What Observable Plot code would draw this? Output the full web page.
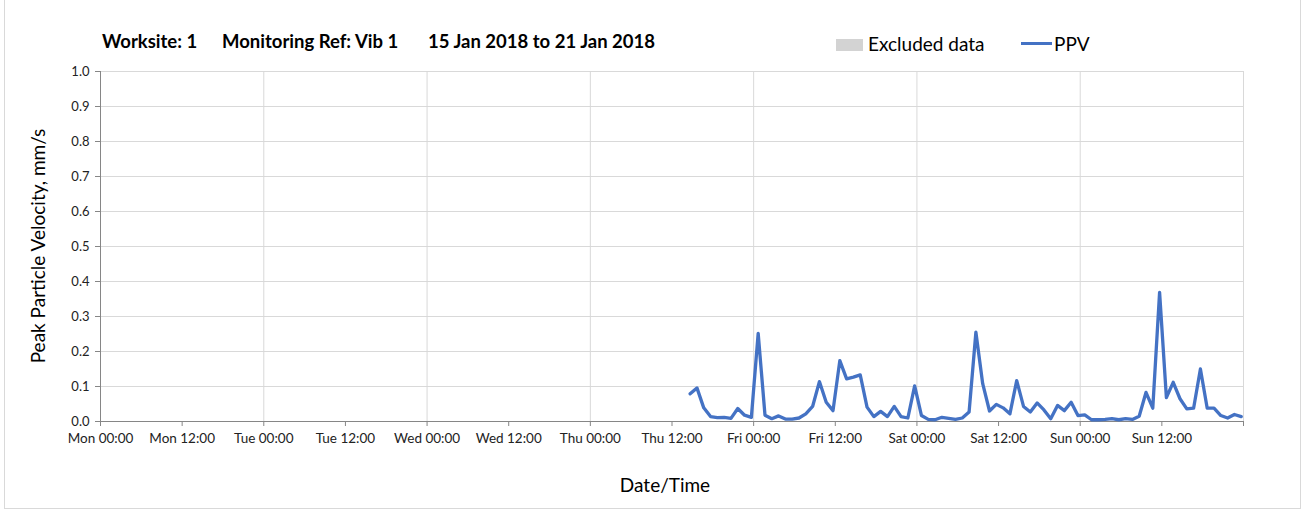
<!DOCTYPE html>
<html>
<head>
<meta charset="utf-8">
<script src="https://cdn.jsdelivr.net/npm/d3@7"></script>
<script src="https://cdn.jsdelivr.net/npm/@observablehq/plot@0.6"></script>
<style>
  html, body { margin: 0; padding: 0; background: #fff; }
  #chart { position: relative; width: 1309px; height: 518px; font-family: Lato, "Open Sans", sans-serif; color: #000; overflow: hidden; }
  #frame { position: absolute; left: 4px; top: -1px; width: 1297px; height: 510px; border: 1px solid #d9d9d9; box-sizing: border-box; }
  .title { position: absolute; top: 30px; font-weight: bold; font-size: 18.5px; white-space: pre; line-height: 22px; }
  .legtext { position: absolute; top: 33px; font-size: 19px; line-height: 22px; color: #000; }
  #swatch { position: absolute; left: 836px; top: 39px; width: 27px; height: 12px; background: #d3d3d3; }
  #legline { position: absolute; left: 1021px; top: 42px; width: 31px; height: 3px; background: #4472c4; }
  #ylab { position: absolute; left: 37px; top: 246px; transform: translate(-50%, -50%) rotate(-90deg); font-size: 19px; white-space: nowrap; }
  #xlab { position: absolute; left: 665px; top: 484px; transform: translate(-50%, -50%); font-size: 19px; white-space: nowrap; }
  #plot { position: absolute; left: 0; top: 0; }
</style>
</head>
<body>
<div id="chart">
  <div id="plot"></div>
  <div id="frame"></div>
  <div class="title" style="left:102px">Worksite: 1</div>
  <div class="title" style="left:222px">Monitoring Ref: Vib 1</div>
  <div class="title" style="left:428px">15 Jan 2018 to 21 Jan 2018</div>
  <div id="swatch"></div>
  <div class="legtext" style="left:868px">Excluded data</div>
  <div id="legline"></div>
  <div class="legtext" style="left:1054px">PPV</div>
  <div id="ylab">Peak Particle Velocity, mm/s</div>
  <div id="xlab">Date/Time</div>
</div>
<script>
// ---- data ----
const dayNames = ["Mon", "Tue", "Wed", "Thu", "Fri", "Sat", "Sun"];
const hourNames = ["00:00", "12:00"];
const yTickValues = [0, 0.1, 0.2, 0.3, 0.4, 0.5, 0.6, 0.7, 0.8, 0.9, 1.0];
const periodStart = "2018-01-15T00:00:00Z";
const periodEnd = "2018-01-22T00:00:00Z";
const firstReading = "2018-01-18T14:40:00Z"; // hourly readings from here
const ppv = [
  0.079, 0.096, 0.039, 0.014, 0.011, 0.012, 0.009, 0.037, 0.018, 0.012,
  0.252, 0.018, 0.008, 0.016, 0.007, 0.007, 0.010, 0.022, 0.043, 0.114,
  0.055, 0.031, 0.174, 0.122, 0.127, 0.133, 0.041, 0.014, 0.029, 0.014,
  0.043, 0.014, 0.010, 0.102, 0.017, 0.006, 0.005, 0.012, 0.009, 0.006,
  0.010, 0.027, 0.255, 0.108, 0.030, 0.049, 0.039, 0.022, 0.117, 0.043,
  0.027, 0.053, 0.033, 0.008, 0.046, 0.031, 0.055, 0.017, 0.019, 0.005,
  0.005, 0.006, 0.008, 0.005, 0.008, 0.006, 0.015, 0.083, 0.038, 0.369,
  0.068, 0.112, 0.065, 0.036, 0.038, 0.150, 0.038, 0.038, 0.017, 0.010,
  0.020, 0.014
];

// ---- build ----
const HOUR = 3600e3;
const t0 = new Date(periodStart);
const t1 = new Date(periodEnd);
const tFirst = new Date(firstReading);
const data = ppv.map((v, i) => ({ t: new Date(+tFirst + i * HOUR), v }));
const xTicks = d3.utcHour.every(12).range(t0, new Date(+t1 + 1));
const dayLines = d3.utcDay.range(new Date(+t0 + 1), new Date(+t1 + 1));
const fmtX = (d) => {
  const h = Math.round((d - t0) / HOUR);
  const day = Math.floor(h / 24);
  if (day >= dayNames.length) return "";
  return dayNames[day] + " " + hourNames[(h % 24) / 12];
};

const chart = Plot.plot({
  width: 1309,
  height: 518,
  marginLeft: 100,
  marginRight: 66,
  marginTop: 71,
  marginBottom: 97,
  style: { fontFamily: "Lato, 'Open Sans', sans-serif", color: "#222", background: "transparent" },
  x: { type: "utc", domain: [t0, t1] },
  y: { domain: [0, 1] },
  marks: [
    Plot.gridY(yTickValues, { stroke: "#d9d9d9", strokeOpacity: 1, strokeWidth: 1 }),
    Plot.ruleX(dayLines, { stroke: "#d9d9d9", strokeWidth: 1 }),
    Plot.ruleY([0], { stroke: "#868686" }),
    Plot.ruleX([t0], { stroke: "#868686" }),
    Plot.axisY({ ticks: yTickValues, tickFormat: (d) => d.toFixed(1), tickSize: 5, tickPadding: 6, fontSize: 13, label: null, stroke: "#868686", fill: "#222" }),
    Plot.axisX({ ticks: xTicks, tickFormat: fmtX, tickSize: 5, tickPadding: 7, fontSize: 13.5, label: null, stroke: "#868686", fill: "#222" }),
    Plot.lineY(data, { x: "t", y: "v", stroke: "#4472c4", strokeWidth: 3.3, strokeLinejoin: "round" })
  ]
});
document.getElementById("plot").appendChild(chart);
</script>
</body>
</html>
